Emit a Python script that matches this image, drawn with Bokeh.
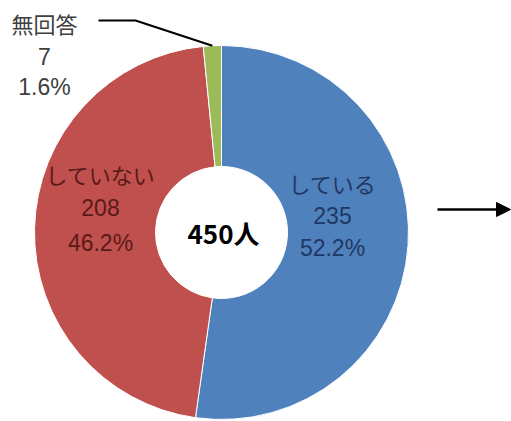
import math
from bokeh.plotting import figure
from bokeh.models import Range1d, Arrow, NormalHead, ColumnDataSource
from bokeh.embed import file_html
from bokeh.resources import INLINE
from bokeh.core.properties import value

# ---- data ----
categories = ["している", "していない", "無回答"]
counts = [235, 208, 7]
colors = ["#4F81BD", "#C0504D", "#9BBB59"]
label_colors = ["#1F3864", "#5A1A18", "#404040"]
total_label = "450人"

# ---- layout (pixel space, y measured upward) ----
W, H = 511, 421
CX, CY = 221, H - 232
R_IN, R_OUT = 66, 187

total = sum(counts)
starts, ends = [], []
acc = 0
for c in counts:
    starts.append(math.pi / 2 - 2 * math.pi * acc / total)
    acc += c
    ends.append(math.pi / 2 - 2 * math.pi * acc / total)
pct = ["%.1f%%" % (100.0 * c / total) for c in counts]

p = figure(width=W, height=H, x_range=Range1d(0, W), y_range=Range1d(0, H),
           output_backend="svg", toolbar_location=None, min_border=0,
           x_axis_location=None, y_axis_location=None)
p.grid.visible = False
p.outline_line_color = None
p.background_fill_color = "white"
p.border_fill_color = "white"

src = ColumnDataSource(dict(start=starts, end=ends, color=colors))
p.annular_wedge(x=CX, y=CY, inner_radius=R_IN, outer_radius=R_OUT,
                start_angle="start", end_angle="end", direction="clock",
                fill_color="color", line_color="white", line_width=1, source=src)

# label anchors: (x, y of each of the three lines), pixel coords from top
anchors = [(332, (182, 215, 247)), (100, (173, 207, 242)), (44, (22, 56, 86))]
for i, (ax, ys) in enumerate(anchors):
    p.text(x=[ax], y=[H - ys[0]], text=[categories[i]], text_align="center", text_baseline="middle",
           text_font=value("Noto Sans CJK JP"), text_font_size="22px", text_color=label_colors[i])
    p.text(x=[ax], y=[H - ys[1]], text=[str(counts[i])], text_align="center", text_baseline="middle",
           text_font=value("Liberation Sans"), text_font_size="23px", text_color=label_colors[i])
    p.text(x=[ax], y=[H - ys[2]], text=[pct[i]], text_align="center", text_baseline="middle",
           text_font=value("Liberation Sans"), text_font_size="23px", text_color=label_colors[i])

# leader line for 無回答
mid_g = (starts[2] + ends[2]) / 2
p.line(x=[98, 135, CX + R_OUT * math.cos(mid_g)], y=[H - 20, H - 20, CY + R_OUT * math.sin(mid_g)],
       line_color="black", line_width=2)

# centre total
p.text(x=[CX + 2], y=[CY], text=[total_label], text_align="center", text_baseline="middle",
       text_font=value("Noto Sans CJK JP"), text_font_size="26px", text_font_style="bold",
       text_color="black")

# arrow at right
p.add_layout(Arrow(x_start=437, y_start=H - 209, x_end=510, y_end=H - 209,
                   line_color="black", line_width=2.5,
                   end=NormalHead(size=14, fill_color="black", line_color="black")))

open("out.html", "w").write(file_html(p, INLINE))
